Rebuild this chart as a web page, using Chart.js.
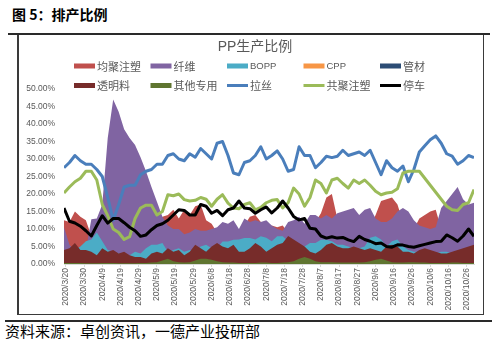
<!DOCTYPE html>
<html>
<head>
<meta charset="utf-8">
<script src="https://cdn.jsdelivr.net/npm/chart.js@4.4.0/dist/chart.umd.min.js"></script>
<style>
  body { margin: 0; width: 501px; height: 348px; background: #fff; position: relative; overflow: hidden;
         font-family: "Noto Sans CJK SC", sans-serif; }
  #head { position: absolute; left: 12px; top: 4px; font-size: 14px; line-height: 20px; font-weight: bold; color: #000; }
  #rule1 { position: absolute; left: 8px; top: 33px; width: 482px; height: 2px; background: #2a2a2a; }
  #box { position: absolute; left: 17px; top: 35px; width: 467px; height: 280px; box-sizing: border-box;
         border-left: 2px solid #3a3a3a; border-right: 1px solid #3a3a3a; border-bottom: 1px solid #3a3a3a; }
  #rule2 { position: absolute; left: 5px; top: 320px; width: 487px; height: 2px; background: #2a2a2a; }
  #foot { position: absolute; left: 5px; top: 322px; font-size: 15px; line-height: 18px; color: #000; }
  #c { position: absolute; left: 19px; top: 36px; }
</style>
</head>
<body>
<div id="head">图 5：排产比例</div>
<div id="rule1"></div>
<div id="box"></div>
<canvas id="c" width="463" height="276"></canvas>
<div id="rule2"></div>
<div id="foot">资料来源：卓创资讯，一德产业投研部</div>
<script>
// sample dates (every 3 days)
const dates = [
  '2020/3/19', '2020/3/22', '2020/3/25', '2020/3/28', '2020/3/31', '2020/4/3', '2020/4/6', '2020/4/9', '2020/4/12', '2020/4/15',
  '2020/4/18', '2020/4/21', '2020/4/24', '2020/4/27', '2020/4/30', '2020/5/3', '2020/5/6', '2020/5/9', '2020/5/12', '2020/5/15',
  '2020/5/18', '2020/5/21', '2020/5/24', '2020/5/27', '2020/5/30', '2020/6/2', '2020/6/5', '2020/6/8', '2020/6/11', '2020/6/14',
  '2020/6/17', '2020/6/20', '2020/6/23', '2020/6/26', '2020/6/29', '2020/7/2', '2020/7/5', '2020/7/8', '2020/7/11', '2020/7/14',
  '2020/7/17', '2020/7/20', '2020/7/23', '2020/7/26', '2020/7/29', '2020/8/1', '2020/8/4', '2020/8/7', '2020/8/10', '2020/8/13',
  '2020/8/16', '2020/8/19', '2020/8/22', '2020/8/25', '2020/8/28', '2020/8/31', '2020/9/3', '2020/9/6', '2020/9/9', '2020/9/12',
  '2020/9/15', '2020/9/18', '2020/9/21', '2020/9/24', '2020/9/27', '2020/9/30', '2020/10/3', '2020/10/6', '2020/10/9', '2020/10/12',
  '2020/10/15', '2020/10/18', '2020/10/21', '2020/10/24', '2020/10/27', '2020/10/30'
];

// axis tick labels
const tickDates = [
  '2020/3/20', '2020/3/30', '2020/4/9', '2020/4/19', '2020/4/29', '2020/5/9', '2020/5/19', '2020/5/29',
  '2020/6/8', '2020/6/18', '2020/6/28', '2020/7/8', '2020/7/18', '2020/7/28', '2020/8/7', '2020/8/17',
  '2020/8/27', '2020/9/6', '2020/9/16', '2020/9/26', '2020/10/6', '2020/10/16', '2020/10/26'
];

// 排产比例 (%)
const junjuZhusu = [
  12.5, 12, 15, 13.5, 12.5, 8, 5, 5, 6, 6,
  7, 7, 7, 8, 8, 9, 10, 11, 13.5, 14,
  15.5, 13, 15.5, 14, 16.5, 17, 12.5, 11.5, 9, 8,
  9, 10, 9.5, 11, 13.5, 14, 12, 10, 11, 10.5,
  11, 9, 10, 9, 10, 11, 12, 14.5, 19, 20,
  13, 11, 10, 11, 10, 12, 11, 14, 18, 18.5,
  19, 17, 12, 11, 10, 13, 14, 15, 15.5, 10,
  9, 9, 8, 8, 9, 9
];
const xianwei = [
  10.5, 5.5, 3.5, 3, 4, 12.8, 13, 17, 36, 47,
  43.5, 38.5, 36, 34, 30.5, 26.5, 22, 17.8, 13.5, 11,
  10, 10, 8.5, 9, 10, 9.5, 9.5, 10, 10.5, 12,
  11.5, 12.5, 10, 13, 12, 12.5, 12, 12.5, 11, 10,
  9.5, 12, 12.5, 13.5, 11.5, 14, 14, 13, 14, 13,
  14.5, 15, 15.5, 16, 14, 15.5, 16, 13, 12, 12,
  13, 15, 16, 15, 12.5, 11, 10.5, 10, 10.5, 16,
  18, 20, 22, 18.5, 17, 17.5
];
const bopp = [
  2, 2.5, 4, 5, 6.5, 7, 9, 6.5, 4, 3.5,
  3, 2.5, 2.5, 3.5, 3, 4.5, 5.5, 5.5, 6, 3.5,
  4, 4.5, 3.5, 4, 3.5, 5, 5.5, 4.5, 4.5, 6.4,
  6.4, 6.9, 7, 7.4, 7.4, 7, 7.9, 7.5, 6.5, 7.9,
  7.9, 6.5, 5, 4.5, 5, 6, 6, 6.9, 6.9, 6.5,
  5.5, 5.5, 5, 4.5, 4.5, 5, 7.5, 7.9, 7, 5,
  6.5, 7, 5, 4, 3.5, 3.5, 3, 3, 3, 3.5,
  3.5, 3, 3, 3.5, 3, 3.5
];
const cpp = [
  0.8, 0.9, 1, 0.9, 0.8, 0.8, 0.7, 0.8, 0.9, 0.8,
  0.7, 0.8, 0.8, 0.7, 0.7, 0.6, 0.8, 0.9, 0.9, 1,
  0.9, 0.8, 0.8, 0.9, 1, 1, 0.9, 0.9, 1, 1,
  0.9, 1, 0.9, 0.9, 1, 1, 1, 0.9, 1, 1,
  1, 1.1, 1, 1, 1, 0.9, 0.8, 0.9, 1, 1,
  1, 1, 1, 1, 1, 0.9, 1, 1, 0.9, 1,
  1, 1, 0.9, 0.9, 0.8, 0.9, 1, 1, 0.9, 0.8,
  0.8, 0.9, 1, 1, 1, 1
];
const guancai = [
  0.5, 0.5, 0.6, 0.5, 0.5, 0.4, 0.4, 0.5, 0.5, 0.5,
  0.4, 0.4, 0.5, 0.4, 0.4, 0.4, 0.5, 0.5, 0.5, 0.6,
  0.6, 0.5, 0.5, 0.5, 0.6, 0.6, 0.6, 0.5, 0.6, 0.6,
  0.5, 0.6, 0.5, 0.5, 0.6, 0.6, 0.6, 0.5, 0.6, 0.6,
  0.6, 0.6, 0.6, 0.6, 0.6, 0.5, 0.5, 0.5, 0.6, 0.6,
  0.6, 0.6, 0.6, 0.6, 0.6, 0.5, 0.6, 0.6, 0.5, 0.6,
  0.6, 0.6, 0.5, 0.5, 0.5, 0.5, 0.6, 0.6, 0.5, 0.5,
  0.5, 0.5, 0.6, 0.6, 0.6, 0.6
];
const touming = [
  4, 4.5, 6, 4, 4, 3.5, 2.5, 4.5, 3.5, 4,
  3, 3.5, 2.5, 2, 2, 1.5, 3, 3.5, 3, 4.5,
  3.5, 4, 2.5, 3.5, 5.5, 4.5, 3.5, 5, 6, 5,
  4.5, 5.5, 3.5, 3.5, 4.5, 6, 5, 3.5, 4.5, 5.5,
  6, 8, 7, 6, 5, 3.5, 3, 4, 5.5, 6,
  5, 4.5, 4.5, 5, 4.5, 4, 4.5, 4, 3.5, 5,
  5.5, 5, 3.5, 3.5, 3, 4, 4.5, 4, 3.5, 3,
  3, 3.5, 4, 4.5, 5, 5.5
];
const qitaZhuanyong = [
  0.3, 0.3, 0.3, 0.3, 0.2, 0.2, 0.2, 0.3, 0.3, 0.3,
  0.2, 0.2, 0.2, 0.2, 0.3, 0.3, 0.4, 0.5, 1, 1.5,
  0.8, 0.5, 0.4, 0.5, 1, 1.5, 1.5, 1.2, 0.8, 0.5,
  0.4, 0.4, 0.3, 0.3, 0.3, 0.3, 0.4, 0.4, 0.3, 0.3,
  0.4, 0.5, 0.8, 1.5, 2, 1.5, 0.8, 0.5, 0.5, 0.5,
  0.4, 0.4, 0.4, 0.4, 0.4, 0.5, 0.8, 1.2, 1.5, 1,
  0.5, 0.4, 0.4, 0.5, 0.5, 0.4, 0.4, 0.3, 0.3, 0.3,
  0.3, 0.4, 0.4, 0.3, 0.3, 0.3
];
const lasi = [
  27.5, 29, 31, 29.5, 28.5, 28.5, 27, 25, 19, 12.5,
  17, 22, 22.5, 22.5, 25.5, 26.5, 27, 28.5, 28.5, 31,
  31.5, 30, 29.5, 31.5, 30.5, 33, 31.5, 30, 34.5, 35,
  31, 26, 25.5, 29, 29.5, 31, 33.5, 30, 31, 32.3,
  30, 26.5, 27, 33.5, 31, 31, 27.5, 29, 30.8, 30.4,
  30.8, 32.5, 31, 31.5, 32, 31, 32.5, 29, 25.5, 29.5,
  27.5, 26.5, 28, 23.5, 27, 32, 33.8, 35.5, 36.6, 34.5,
  31.5, 30.8, 28.5, 29.5, 31, 30.4
];
const gongjuZhusu = [
  20.3, 22, 23.5, 24.5, 26.5, 26.5, 24, 17, 13.8, 10,
  9, 7, 7.8, 13, 16, 16.8, 16.8, 14, 15, 19.8,
  19.5, 20, 18.4, 18, 18.2, 19, 18.5, 16.5, 18.5, 19.8,
  17.4, 16, 15.8, 17, 17.5, 15.5, 16.2, 17.5, 18.2, 18.4,
  16, 17.5, 21.7, 20, 16.5, 19, 24, 23, 20.3, 24,
  24.5, 23, 21.7, 24, 23, 24, 22.5, 20.8, 19.8, 20.3,
  20.5, 21.5, 26, 26.5, 26.5, 26.5, 24.5, 22.5, 20.5, 18.5,
  16.5, 15.5, 15.3, 17, 17.5, 21.3
];
const tingche = [
  16, 12.2, 11.7, 10.8, 9.5, 8, 11, 13.8, 11.7, 13,
  13, 11.8, 10.5, 9.5, 7.9, 8.3, 9.8, 11, 11.5, 12.5,
  14, 15.5, 15.3, 14, 14, 17, 16.5, 14.5, 15.3, 13.8,
  15.5, 16, 18, 16, 15.8, 14.5, 15.5, 16.3, 14.6, 16,
  18, 16, 13.6, 12.6, 13, 10.2, 10, 8, 7.4, 7.8,
  7.4, 7.6, 6.9, 6.4, 7.9, 7, 6.5, 5.8, 6, 5,
  4.8, 5.5, 5.4, 5, 4.8, 5.2, 5.6, 6, 6.4, 6.5,
  8.3, 7.5, 6.5, 8, 10, 7.9
];

const chartTitle = 'PP生产比例';

// days since 2020/3/20, used as x values
function dayOf(s) {
  const p = s.split('/').map(Number);
  return (Date.UTC(p[0], p[1] - 1, p[2]) - Date.UTC(2020, 2, 20)) / 86400000;
}
const xs = dates.map(dayOf);
const tickDays = tickDates.map(dayOf);
const pts = arr => arr.map((v, i) => ({ x: xs[i], y: v }));

function area(label, values, color) {
  return { label: label, data: pts(values), fill: 'origin', backgroundColor: color,
           borderWidth: 0, borderColor: color, pointRadius: 0, tension: 0 };
}
function line(label, values, color) {
  return { label: label, data: pts(values), fill: false, borderColor: color, backgroundColor: color,
           borderWidth: 3, pointRadius: 0, tension: 0, borderJoinStyle: 'round' };
}

const datasets = [
  area('均聚注塑', junjuZhusu, '#C0504D'),
  area('纤维', xianwei, '#8064A2'),
  area('BOPP', bopp, '#4BACC6'),
  area('CPP', cpp, '#F79646'),
  area('管材', guancai, '#2C4D75'),
  area('透明料', touming, '#772C2A'),
  area('其他专用', qitaZhuanyong, '#5F7530'),
  line('拉丝', lasi, '#4A7EBB'),
  line('共聚注塑', gongjuZhusu, '#9BBB59'),
  line('停车', tingche, '#000000')
];
// later series sit on top, like the spreadsheet
datasets.forEach((d, i) => { d.order = datasets.length - i; });

// title and a 5-column legend grid
const legendGrid = {
  id: 'legendGrid',
  afterDraw(chart) {
    const ctx = chart.ctx;
    ctx.save();
    ctx.fillStyle = '#595959';
    ctx.textBaseline = 'middle';
    ctx.textAlign = 'center';
    ctx.font = '14px "Liberation Sans", "Noto Sans CJK SC"';
    ctx.fillText(chartTitle, 236, 11);
    ctx.textAlign = 'left';
    chart.data.datasets.forEach((ds, i) => {
      const x = 55 + (i % 5) * 76.5;
      const y = 30 + Math.floor(i / 5) * 19.5;
      if (ds.fill) {
        ctx.fillStyle = ds.backgroundColor;
        ctx.fillRect(x, y - 2.5, 21, 5);
      } else {
        ctx.strokeStyle = ds.borderColor;
        ctx.lineWidth = 3;
        ctx.beginPath();
        ctx.moveTo(x, y);
        ctx.lineTo(x + 21, y);
        ctx.stroke();
      }
      ctx.fillStyle = '#595959';
      ctx.font = /^[\x00-\x7f]+$/.test(ds.label) ? '9.5px "Liberation Sans"' : '11px "Noto Sans CJK SC"';
      ctx.fillText(ds.label, x + 23, y + 0.5);
    });
    ctx.restore();
  }
};

const ctx = document.getElementById('c').getContext('2d');
new Chart(ctx, {
  type: 'line',
  data: { datasets: datasets },
  options: {
    responsive: false,
    animation: false,
    layout: { padding: { left: 0, right: 8, top: 53, bottom: 0 } },
    plugins: { legend: { display: false }, title: { display: false }, tooltip: { enabled: false } },
    scales: {
      x: {
        type: 'linear',
        min: -1,
        max: 224,
        afterBuildTicks: s => { s.ticks = tickDays.map(v => ({ value: v })); },
        afterFit: s => { s.height = 48; },
        grid: { drawOnChartArea: false, color: '#d9d9d9', tickLength: 3 },
        border: { color: '#d9d9d9' },
        ticks: {
          autoSkip: false, minRotation: 90, maxRotation: 90, padding: 1,
          color: '#595959', font: { family: 'Liberation Sans', size: 8.5 },
          callback: v => tickDates[tickDays.indexOf(v)]
        }
      },
      y: {
        min: 0,
        max: 50,
        afterFit: s => { s.width = 45; },
        grid: { display: false, drawTicks: false },
        border: { display: false },
        ticks: {
          stepSize: 5, padding: 9,
          color: '#595959', font: { family: 'Liberation Sans', size: 8.5 },
          callback: v => v.toFixed(2) + '%'
        }
      }
    }
  },
  plugins: [legendGrid]
});
</script>
</body>
</html>
